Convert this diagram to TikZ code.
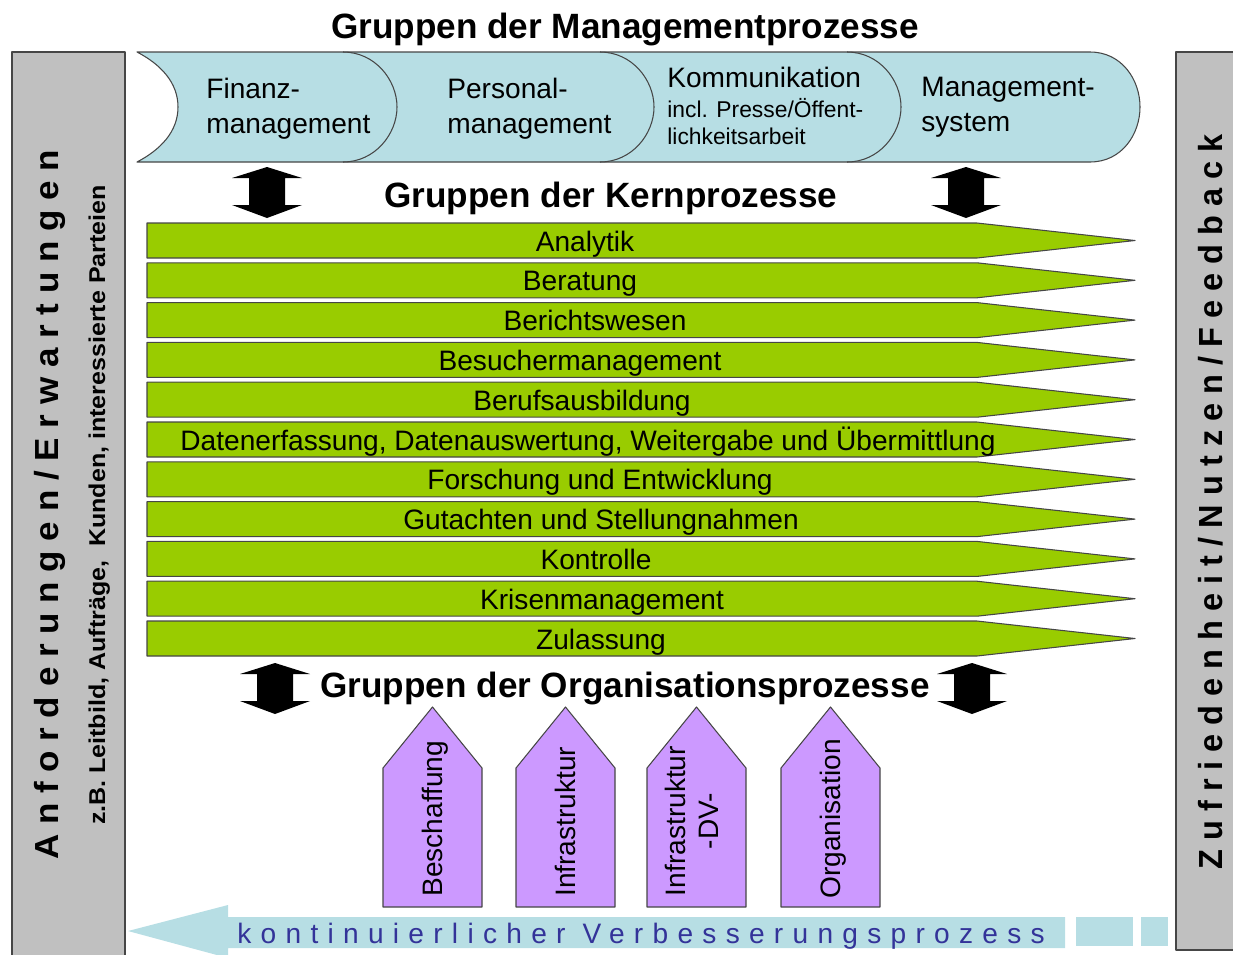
\documentclass[tikz,border=0pt]{standalone}
\usepackage{fontspec}
\usepackage{graphicx}
\setmainfont{Liberation Sans}
\usetikzlibrary{positioning}

\definecolor{mgmtblue}{RGB}{183,222,228}
\definecolor{kerngreen}{RGB}{153,204,0}
\definecolor{orgviolet}{RGB}{204,153,255}
\definecolor{sidegray}{RGB}{192,192,192}
\definecolor{kvpblue}{RGB}{51,51,153}
\definecolor{edgegray}{RGB}{70,70,70}

\tikzset{
  heading/.style={font=\bfseries\fontsize{20}{24}\selectfont, inner sep=0pt},
  mgmttext/.style={font=\fontsize{16}{19.8}\selectfont, align=left, anchor=north west, inner sep=0pt},
  kerntext/.style={font=\fontsize{16}{19}\selectfont, inner sep=0pt, anchor=base},
  orgtext/.style={font=\fontsize{16}{19}\selectfont, rotate=90, align=center, inner sep=0pt},
  sidetext/.style={font=\bfseries\fontsize{19}{22}\selectfont, rotate=90, inner sep=0pt, anchor=base},
  sidesub/.style={font=\bfseries\fontsize{13}{15}\selectfont, rotate=90, inner sep=0pt, anchor=base},
  kvptext/.style={font=\fontsize{16}{19}\selectfont\addfontfeature{LetterSpace=33}, text=kvpblue, inner sep=0pt},
  sidebar/.style={fill=sidegray, draw=edgegray, line width=0.6pt},
  mgmt/.style={fill=mgmtblue, draw=edgegray, line width=0.6pt},
  kernbar/.style={fill=kerngreen, draw=edgegray, line width=0.6pt},
  orgbox/.style={fill=orgviolet, draw=edgegray, line width=0.6pt},
  kvparrow/.style={fill=mgmtblue},
  dblarrow/.style={fill=black}
}

% vertical double block arrow: centre x, top y, bottom y
\newcommand{\updown}[3]{%
  \fill[dblarrow] (#1,#2) -- (#1+35,#2+11) -- (#1+18,#2+11) -- (#1+18,#3-13)
    -- (#1+35,#3-13) -- (#1,#3) -- (#1-35,#3-13) -- (#1-18,#3-13)
    -- (#1-18,#2+11) -- (#1-35,#2+11) -- cycle;}

\begin{document}
\begin{tikzpicture}[x=0.02cm, y=-0.02cm, line join=round]
\useasboundingbox (0,0) rectangle (1233,954);

% side bars
\draw[sidebar] (12,52) rectangle (125,962);
\draw[sidebar] (1176,52) rectangle (1240,950);
\node[sidetext] (anf) at (58,505) {\resizebox{14.2cm}{\height}{A n f o r d e r u n g e n / E r w a r t u n g e n}};
\node[sidesub] (bsp) at (105,505) {\resizebox{12.8cm}{\height}{z.B. Leitbild, Aufträge,~ Kunden, interessierte Parteien}};
\node[sidetext] (zuf) at (1222,502) {\resizebox{14.7cm}{\height}{Z u f r i e d e n h e i t / N u t z e n / F e e d b a c k}};

% management processes
\node[heading, anchor=base] (mgmthead) at (625,38) {Gruppen der Managementprozesse};
\draw[mgmt] (137,52) -- (1090,52) .. controls (1122,52) and (1140,80) .. (1140,107)
  .. controls (1140,134) and (1122,162) .. (1090,162) -- (137,162)
  .. controls (160,150) and (178,132) .. (178,107)
  .. controls (178,82) and (160,64) .. (137,52) -- cycle;
\foreach \x in {343,600,847}
  \draw[edgegray, line width=0.6pt] (\x,52) .. controls (\x+32,52) and (\x+54,80) .. (\x+54,107)
    .. controls (\x+54,134) and (\x+32,162) .. (\x,162);
\node[mgmttext] (fin) at (206,78) {Finanz-\\management};
\node[mgmttext] (pers) at (447,78) {Personal-\\management};
\node[mgmttext] (komm) at (667,67) {Kommunikation\\[-2.8pt]\fontsize{13}{16}\selectfont incl. Presse/Öffent-\\[-4.5pt]\fontsize{13}{16}\selectfont lichkeitsarbeit};
\node[mgmttext] (msys) at (921,77) {Management-\\system};

% core processes
\updown{267}{167}{218}
\updown{966}{167}{218}
\node[heading, anchor=base] (kernhead) at (611,207) {Gruppen der Kernprozesse};
\foreach \lbl/\cx [count=\i from 0] in {Analytik/585, Beratung/580, Berichtswesen/595,
    Besuchermanagement/580, Berufsausbildung/582,
    {Datenerfassung, Datenauswertung, Weitergabe und Übermittlung}/588,
    Forschung und Entwicklung/600, Gutachten und Stellungnahmen/601,
    Kontrolle/596, Krisenmanagement/602, Zulassung/601} {
  \pgfmathsetmacro{\yt}{223+39.8*\i}
  \draw[kernbar] (147,\yt) -- (977,\yt) -- (1135,\yt+17.5) -- (977,\yt+35) -- (147,\yt+35) -- cycle;
  \node[kerntext] (kern\i) at (\cx,\yt+28) {\lbl};
}

% organisation processes
\updown{275}{663}{714}
\updown{972}{663}{714}
\node[heading, anchor=base] (orghead) at (625,697) {Gruppen der Organisationsprozesse};
\foreach \xl in {383,516,647,781}
  \draw[orgbox] (\xl,907) -- (\xl,768) -- (\xl+49.5,707) -- (\xl+99,768) -- (\xl+99,907) -- cycle;
\node[orgtext, anchor=base west] (besch) at (442,897) {Beschaffung};
\node[orgtext, anchor=base west] (infra) at (575,897) {Infrastruktur};
\node[orgtext] (infradv) at (692,821) {Infrastruktur\\-DV-};
\node[orgtext, anchor=base west] (orga) at (840,899) {Organisation};

% continuous improvement
\fill[kvparrow] (128,931) -- (228,905) -- (228,917) -- (1065,917) -- (1065,948)
  -- (228,948) -- (228,958) -- cycle;
\fill[kvparrow] (1076,917) rectangle (1133,946);
\fill[kvparrow] (1141,917) rectangle (1168,946);
\node[kvptext, anchor=base west] (kvp) at (237,943) {kontinuierlicher Verbesserungsprozess};
\end{tikzpicture}
\end{document}
